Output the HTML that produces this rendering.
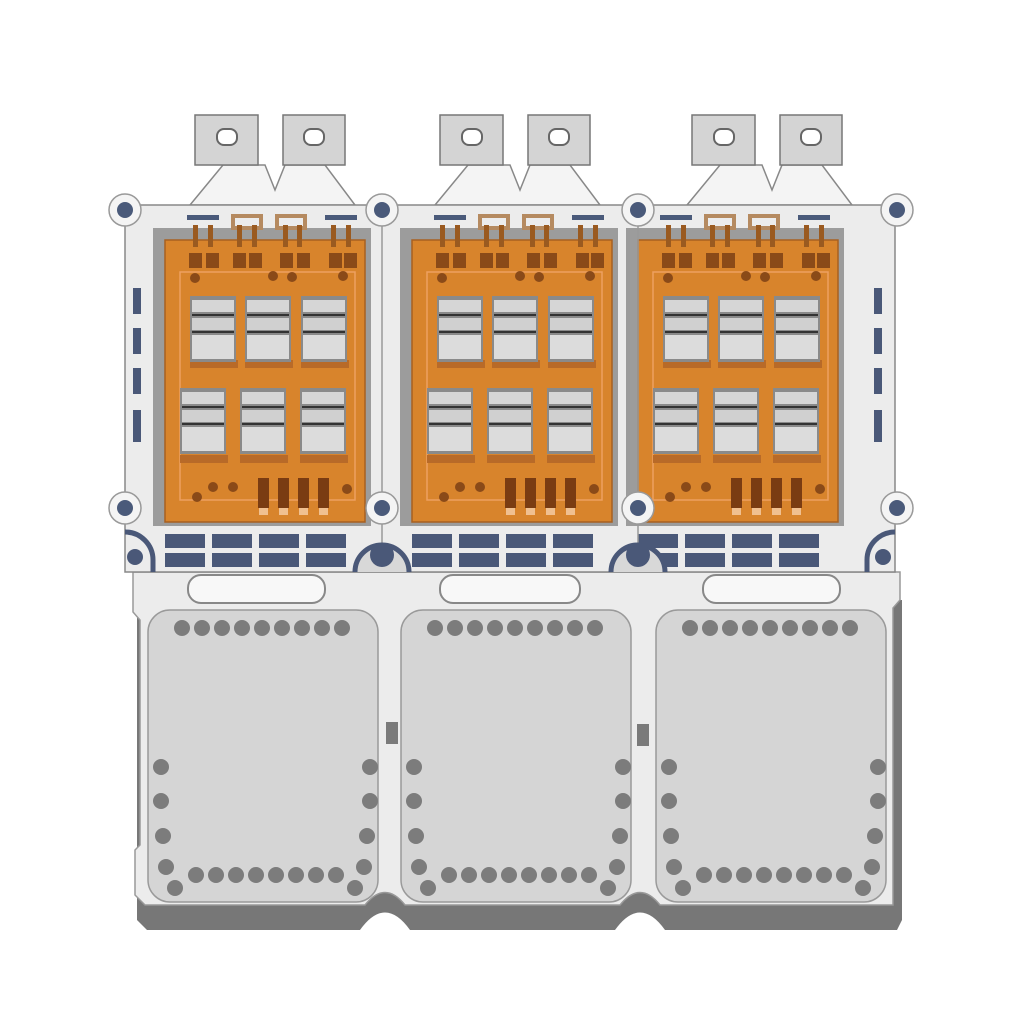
<!DOCTYPE html>
<html><head><meta charset="utf-8"><style>html,body{margin:0;padding:0;background:#fff;}svg{display:block}</style></head>
<body>
<svg width="1024" height="1024" viewBox="0 0 1024 1024" xmlns="http://www.w3.org/2000/svg">
<defs>
  <g id="chip">
    <rect x="0" y="0" width="46" height="66" fill="#8a8a8a"/>
    <rect x="2" y="4" width="42" height="12" fill="#d6d6d6"/>
    <rect x="2" y="18" width="42" height="2" fill="#333"/>
    <rect x="2" y="22" width="42" height="12" fill="#d0d0d0"/>
    <rect x="2" y="35" width="42" height="2" fill="#333"/>
    <rect x="2" y="39" width="42" height="24" fill="#dcdcdc"/>
  </g>
  <g id="tabs">
    <path d="M-5 205 L28 165 L70 165 L80 190 L90 165 L130 165 L160 205 Z" fill="#f4f4f4" stroke="#888" stroke-width="1.5"/>
    <rect x="0" y="115" width="63" height="50" fill="#d4d4d4" stroke="#777" stroke-width="1.5"/>
    <rect x="88" y="115" width="62" height="50" fill="#d4d4d4" stroke="#777" stroke-width="1.5"/>
    <rect x="22" y="129" width="20" height="16" rx="7" fill="#fff" stroke="#666" stroke-width="2"/>
    <rect x="109" y="129" width="20" height="16" rx="7" fill="#fff" stroke="#666" stroke-width="2"/>
  </g>
  <g id="cell">
    <rect x="28" y="228" width="218" height="298" fill="#9c9c9c"/>
    <rect x="40" y="240" width="200" height="282" fill="#d8842c" stroke="#a86020" stroke-width="1.5"/>
    <rect x="55" y="272" width="175" height="228" fill="none" stroke="#eea060" stroke-width="1.5"/>
    <rect x="62" y="215" width="32" height="5" fill="#4a5a7a"/>
    <rect x="200" y="215" width="32" height="5" fill="#4a5a7a"/>
    <rect x="108" y="216" width="28" height="12" fill="none" stroke="#b58a60" stroke-width="4"/>
    <rect x="152" y="216" width="28" height="12" fill="none" stroke="#b58a60" stroke-width="4"/>
    <g fill="#9a5a20">
      <rect x="68" y="225" width="5" height="22"/><rect x="83" y="225" width="5" height="22"/>
      <rect x="112" y="225" width="5" height="22"/><rect x="127" y="225" width="5" height="22"/>
      <rect x="158" y="225" width="5" height="22"/><rect x="172" y="225" width="5" height="22"/>
      <rect x="206" y="225" width="5" height="22"/><rect x="221" y="225" width="5" height="22"/>
    </g>
    <g fill="#8a4a18">
      <rect x="64" y="253" width="13" height="15"/><rect x="81" y="253" width="13" height="15"/>
      <rect x="108" y="253" width="13" height="15"/><rect x="124" y="253" width="13" height="15"/>
      <rect x="155" y="253" width="13" height="15"/><rect x="172" y="253" width="13" height="15"/>
      <rect x="204" y="253" width="13" height="15"/><rect x="219" y="253" width="13" height="15"/>
      <circle cx="70" cy="278" r="5"/><circle cx="148" cy="276" r="5"/><circle cx="167" cy="277" r="5"/><circle cx="218" cy="276" r="5"/>
      <circle cx="72" cy="497" r="5"/><circle cx="88" cy="487" r="5"/><circle cx="108" cy="487" r="5"/><circle cx="222" cy="489" r="5"/>
    </g>
    <g fill="#b86a28">
      <rect x="65" y="360" width="48" height="8"/><rect x="120" y="360" width="48" height="8"/><rect x="176" y="360" width="48" height="8"/>
      <rect x="55" y="455" width="48" height="8"/><rect x="115" y="455" width="48" height="8"/><rect x="175" y="455" width="48" height="8"/>
    </g>
    <use href="#chip" x="65" y="296"/><use href="#chip" x="120" y="296"/><use href="#chip" x="176" y="296"/>
    <use href="#chip" x="55" y="388"/><use href="#chip" x="115" y="388"/><use href="#chip" x="175" y="388"/>
    <g fill="#7a3c12">
      <rect x="133" y="478" width="11" height="30"/><rect x="153" y="478" width="11" height="30"/>
      <rect x="173" y="478" width="11" height="30"/><rect x="193" y="478" width="11" height="30"/>
    </g>
    <g fill="#f0c090">
      <rect x="134" y="508" width="9" height="7"/><rect x="154" y="508" width="9" height="7"/>
      <rect x="174" y="508" width="9" height="7"/><rect x="194" y="508" width="9" height="7"/>
    </g>
    <g fill="#4a5878">
      <rect x="40" y="534" width="40" height="14"/><rect x="87" y="534" width="40" height="14"/><rect x="134" y="534" width="40" height="14"/><rect x="181" y="534" width="40" height="14"/>
      <rect x="40" y="553" width="40" height="14"/><rect x="87" y="553" width="40" height="14"/><rect x="134" y="553" width="40" height="14"/><rect x="181" y="553" width="40" height="14"/>
    </g>
  </g>
  <g id="pad">
    <rect x="0" y="0" width="230" height="292" rx="22" fill="#d5d5d5" stroke="#9a9a9a" stroke-width="1.5"/>
    <g fill="#7c7c7c">
      <circle cx="34" cy="18" r="8"/><circle cx="54" cy="18" r="8"/><circle cx="74" cy="18" r="8"/><circle cx="94" cy="18" r="8"/><circle cx="114" cy="18" r="8"/><circle cx="134" cy="18" r="8"/><circle cx="154" cy="18" r="8"/><circle cx="174" cy="18" r="8"/><circle cx="194" cy="18" r="8"/>
      <circle cx="13" cy="157" r="8"/><circle cx="13" cy="191" r="8"/><circle cx="15" cy="226" r="8"/><circle cx="18" cy="257" r="8"/><circle cx="27" cy="278" r="8"/>
      <circle cx="222" cy="157" r="8"/><circle cx="222" cy="191" r="8"/><circle cx="219" cy="226" r="8"/><circle cx="216" cy="257" r="8"/><circle cx="207" cy="278" r="8"/>
      <circle cx="48" cy="265" r="8"/><circle cx="68" cy="265" r="8"/><circle cx="88" cy="265" r="8"/><circle cx="108" cy="265" r="8"/><circle cx="128" cy="265" r="8"/><circle cx="148" cy="265" r="8"/><circle cx="168" cy="265" r="8"/><circle cx="188" cy="265" r="8"/>
    </g>
  </g>
  <g id="mount">
    <circle r="16" fill="#f4f4f4" stroke="#999" stroke-width="1.5"/>
    <circle r="8" fill="#4a5a7a"/>
  </g>
</defs>

<path d="M137 600 L902 600 L902 920 L897 930 L665 930 Q640 895 615 930 L410 930 Q385 895 360 930 L147 930 L137 920 Z" fill="#777"/>
<path d="M133 572 L900 572 L900 600 L893 608 L893 905 L660 905 Q640 880 620 905 L405 905 Q385 880 365 905 L145 905 L135 895 L135 850 L140 845 L140 620 L133 612 Z" fill="#ececec" stroke="#999" stroke-width="1.5"/>
<rect x="188" y="575" width="137" height="28" rx="13" fill="#f8f8f8" stroke="#888" stroke-width="2"/>
<rect x="440" y="575" width="140" height="28" rx="13" fill="#f8f8f8" stroke="#888" stroke-width="2"/>
<rect x="703" y="575" width="137" height="28" rx="13" fill="#f8f8f8" stroke="#888" stroke-width="2"/>
<use href="#pad" x="148" y="610"/>
<use href="#pad" x="401" y="610"/>
<use href="#pad" x="656" y="610"/>
<rect x="386" y="722" width="12" height="22" fill="#7a7a7a"/>
<rect x="637" y="724" width="12" height="22" fill="#7a7a7a"/>

<use href="#tabs" x="195" y="0"/>
<use href="#tabs" x="440" y="0"/>
<use href="#tabs" x="692" y="0"/>

<rect x="125" y="205" width="770" height="367" fill="#ececec" stroke="#888" stroke-width="1.5"/>
<use href="#cell" x="125" y="0"/>
<use href="#cell" x="372" y="0"/>
<use href="#cell" x="598" y="0"/>
<line x1="382" y1="205" x2="382" y2="572" stroke="#999" stroke-width="1.5"/>
<line x1="638" y1="205" x2="638" y2="572" stroke="#999" stroke-width="1.5"/>
<g fill="#4a5878">
  <rect x="133" y="288" width="8" height="26"/><rect x="133" y="328" width="8" height="26"/><rect x="133" y="368" width="8" height="26"/><rect x="133" y="410" width="8" height="32"/>
  <rect x="874" y="288" width="8" height="26"/><rect x="874" y="328" width="8" height="26"/><rect x="874" y="368" width="8" height="26"/><rect x="874" y="410" width="8" height="32"/>
</g>
<path d="M125 532 A28 28 0 0 1 153 560 L153 572" fill="none" stroke="#4a5878" stroke-width="5"/>
<circle cx="135" cy="557" r="8" fill="#4a5878"/>
<path d="M355 572 A27 27 0 0 1 409 572" fill="#d8d8d8" stroke="#4a5878" stroke-width="5"/>
<circle cx="382" cy="555" r="12" fill="#4a5878"/>
<path d="M611 572 A27 27 0 0 1 665 572" fill="#d8d8d8" stroke="#4a5878" stroke-width="5"/>
<circle cx="638" cy="555" r="12" fill="#4a5878"/>
<path d="M895 532 A28 28 0 0 0 867 560 L867 572" fill="none" stroke="#4a5878" stroke-width="5"/>
<circle cx="883" cy="557" r="8" fill="#4a5878"/>

<use href="#mount" x="125" y="210"/><use href="#mount" x="382" y="210"/><use href="#mount" x="638" y="210"/><use href="#mount" x="897" y="210"/>
<use href="#mount" x="125" y="508"/><use href="#mount" x="382" y="508"/><use href="#mount" x="638" y="508"/><use href="#mount" x="897" y="508"/>
</svg>
</body></html>
